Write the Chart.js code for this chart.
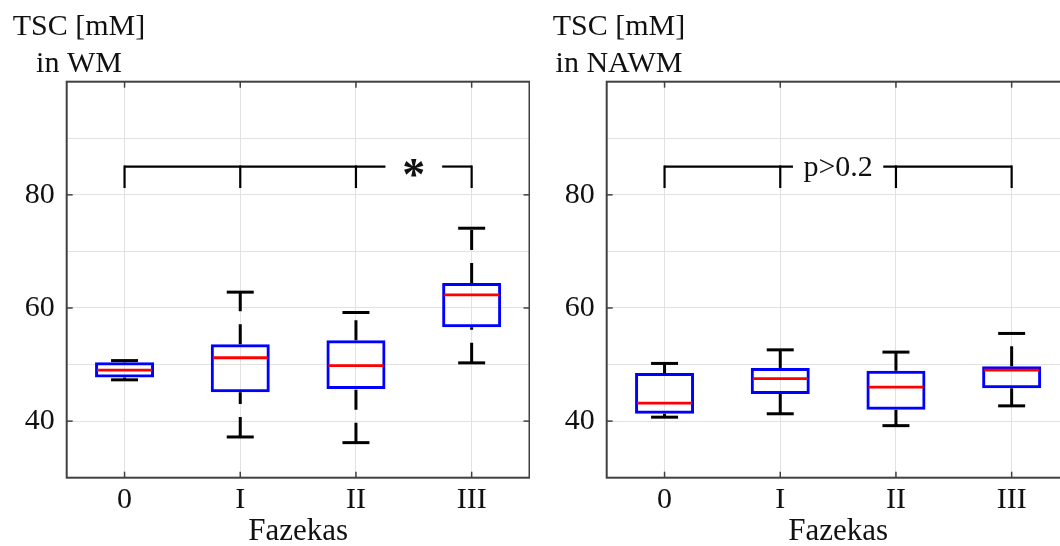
<!DOCTYPE html>
<html>
<head>
<meta charset="utf-8">
<script src="https://cdn.jsdelivr.net/npm/chart.js@4.4.1/dist/chart.umd.min.js"></script>
<style>
  html, body { margin: 0; padding: 0; background: #fff; width: 1060px; height: 546px; overflow: hidden; }
  canvas { position: absolute; top: 0; }
  #wmChart { left: 0; }
  #nawmChart { left: 530px; }
</style>
</head>
<body>
<canvas id="wmChart" width="530" height="546"></canvas>
<canvas id="nawmChart" width="550" height="546"></canvas>
<script>
const fazekas = ['0', 'I', 'II', 'III'];
const yTickLabels = [40, 60, 80];

// TSC in WM
const wmQ1 = [47.7, 45.1, 45.7, 56.6];
const wmQ3 = [50.4, 53.6, 54.3, 64.4];
const wmMedian = [49.0, 51.2, 49.8, 62.3];
const wmLow = [47.3, 37.2, 36.2, 50.3];
const wmHigh = [50.7, 62.8, 59.2, 74.1];

// TSC in NAWM
const nawmQ1 = [41.3, 44.8, 42.0, 45.8];
const nawmQ3 = [48.5, 49.4, 48.9, 49.7];
const nawmMedian = [43.2, 47.5, 46.0, 49.0];
const nawmLow = [40.7, 41.3, 39.2, 42.7];
const nawmHigh = [50.2, 52.6, 52.2, 55.5];

// significance bracket
const bracketLevel = 85;
const bracketDrop = 81.2;

const gridColor = '#e2e2e2';
const axisColor = '#404040';
const textColor = '#111';

Chart.defaults.font.family = '"Liberation Serif", "Times New Roman", serif';

function strokeLine(ctx, x1, y1, x2, y2) {
  ctx.beginPath();
  ctx.moveTo(x1, y1);
  ctx.lineTo(x2, y2);
  ctx.stroke();
}

// whiskers, caps and medians on top of the floating bars
const boxParts = {
  id: 'boxParts',
  afterDatasetsDraw(chart) {
    const ctx = chart.ctx;
    const ds = chart.data.datasets[0];
    const meta = chart.getDatasetMeta(0);
    const y = chart.scales.y;
    ctx.save();
    ctx.lineCap = 'butt';
    meta.data.forEach((bar, i) => {
      const x = bar.x;
      const half = bar.width / 2;
      const yQ1 = y.getPixelForValue(ds.data[i][0]);
      const yQ3 = y.getPixelForValue(ds.data[i][1]);
      const yLow = y.getPixelForValue(ds.whiskerLow[i]);
      const yHigh = y.getPixelForValue(ds.whiskerHigh[i]);
      const yMed = y.getPixelForValue(ds.medianValue[i]);

      // dashed whiskers, drawn from the lower value upwards
      ctx.strokeStyle = '#000';
      ctx.lineWidth = 3;
      ctx.setLineDash([20, 13]);
      strokeLine(ctx, x, yLow, x, yQ1);
      strokeLine(ctx, x, yQ3, x, yHigh);
      ctx.setLineDash([]);

      // caps
      strokeLine(ctx, x - 13.5, yLow, x + 13.5, yLow);
      strokeLine(ctx, x - 13.5, yHigh, x + 13.5, yHigh);

      // median
      ctx.strokeStyle = '#ff0000';
      ctx.lineWidth = 2.8;
      strokeLine(ctx, x - half + 2, yMed, x + half - 2, yMed);
    });
    ctx.restore();
  }
};

const bracket = {
  id: 'bracket',
  afterDatasetsDraw(chart, args, opts) {
    const ctx = chart.ctx;
    const x = chart.scales.x;
    const y = chart.scales.y;
    const yTop = y.getPixelForValue(opts.level);
    const yDrop = y.getPixelForValue(opts.drop);
    const gapL = x.getPixelForValue(opts.gapCenter - opts.gapHalf);
    const gapR = x.getPixelForValue(opts.gapCenter + opts.gapHalf);
    const first = x.getPixelForValue(0);
    const last = x.getPixelForValue(fazekas.length - 1);
    ctx.save();
    ctx.strokeStyle = '#000';
    ctx.lineWidth = 2.2;
    strokeLine(ctx, first, yTop, gapL, yTop);
    strokeLine(ctx, gapR, yTop, last, yTop);
    fazekas.forEach((_, i) => {
      const px = x.getPixelForValue(i);
      strokeLine(ctx, px, yTop - 1.1, px, yDrop);
    });
    ctx.fillStyle = textColor;
    ctx.font = opts.fontWeight + ' ' + opts.fontSize + 'px ' + Chart.defaults.font.family;
    ctx.textAlign = 'center';
    ctx.textBaseline = 'alphabetic';
    ctx.fillText(opts.text, x.getPixelForValue(opts.gapCenter), yTop + opts.fontSize * opts.lift);
    ctx.restore();
  }
};

// full box round the plot with inward tick marks
const frame = {
  id: 'frame',
  afterDraw(chart) {
    const ctx = chart.ctx;
    const a = chart.chartArea;
    const x = chart.scales.x;
    const y = chart.scales.y;
    ctx.save();
    ctx.strokeStyle = axisColor;
    ctx.lineWidth = 2;
    ctx.strokeRect(a.left, a.top, a.right - a.left, a.bottom - a.top);
    ctx.lineWidth = 1.5;
    fazekas.forEach((_, i) => {
      const px = x.getPixelForValue(i);
      strokeLine(ctx, px, a.top, px, a.top + 6);
      strokeLine(ctx, px, a.bottom, px, a.bottom - 6);
    });
    yTickLabels.forEach(v => {
      const py = y.getPixelForValue(v);
      strokeLine(ctx, a.left, py, a.left + 6, py);
      strokeLine(ctx, a.right, py, a.right - 6, py);
    });
    ctx.restore();
  }
};

const panelTitle = {
  id: 'panelTitle',
  afterDraw(chart, args, opts) {
    const ctx = chart.ctx;
    const cx = chart.chartArea.left + 12.3;
    ctx.save();
    ctx.fillStyle = textColor;
    ctx.font = '30px ' + Chart.defaults.font.family;
    ctx.textAlign = 'center';
    ctx.textBaseline = 'alphabetic';
    ctx.fillText(opts.lines[0], cx, 35);
    ctx.fillText(opts.lines[1], cx, 71.5);
    ctx.restore();
  }
};

function makePanel(id, lines, q1, q3, median, low, high, sig, axisWidth, padRight) {
  return new Chart(document.getElementById(id), {
    type: 'bar',
    data: {
      labels: fazekas,
      datasets: [{
        data: fazekas.map((_, i) => [q1[i], q3[i]]),
        medianValue: median,
        whiskerLow: low,
        whiskerHigh: high,
        backgroundColor: 'rgba(0,0,0,0)',
        borderColor: '#0000ff',
        borderWidth: 3,
        borderSkipped: false,
        barPercentage: 0.51,
        categoryPercentage: 1
      }]
    },
    options: {
      responsive: false,
      animation: false,
      events: [],
      layout: { padding: { top: 81.7, right: padRight, left: 0, bottom: 0 } },
      plugins: {
        legend: { display: false },
        tooltip: { enabled: false },
        panelTitle: { lines: lines },
        bracket: sig
      },
      scales: {
        x: {
          offset: true,
          grid: { offset: false, color: gridColor, drawTicks: false },
          border: { display: false },
          ticks: { color: textColor, font: { size: 30 }, padding: 4 },
          title: {
            display: true,
            text: 'Fazekas',
            color: textColor,
            font: { size: 31, lineHeight: 1 },
            padding: { top: 0, bottom: -1 }
          },
          afterFit: s => { s.height = 68.3; }
        },
        y: {
          min: 30,
          max: 100,
          grid: { color: gridColor, drawTicks: false },
          border: { display: false },
          ticks: {
            stepSize: 10,
            color: textColor,
            font: { size: 30 },
            padding: 12,
            callback: v => yTickLabels.includes(v) ? String(v) : ''
          },
          afterFit: s => { s.width = axisWidth; }
        }
      }
    },
    plugins: [boxParts, bracket, frame, panelTitle]
  });
}

makePanel('wmChart', ['TSC [mM]', 'in WM'], wmQ1, wmQ3, wmMedian, wmLow, wmHigh,
  { level: bracketLevel, drop: bracketDrop, text: '*', gapCenter: 2.5, gapHalf: 0.245, fontSize: 46, fontWeight: 'bold', lift: 0.52 },
  66.7, 0.5);

makePanel('nawmChart', ['TSC [mM]', 'in NAWM'], nawmQ1, nawmQ3, nawmMedian, nawmLow, nawmHigh,
  { level: bracketLevel, drop: bracketDrop, text: 'p>0.2', gapCenter: 1.5, gapHalf: 0.39, fontSize: 30, fontWeight: 'normal', lift: 0.31 },
  76.7, 10.5);
</script>
</body>
</html>
